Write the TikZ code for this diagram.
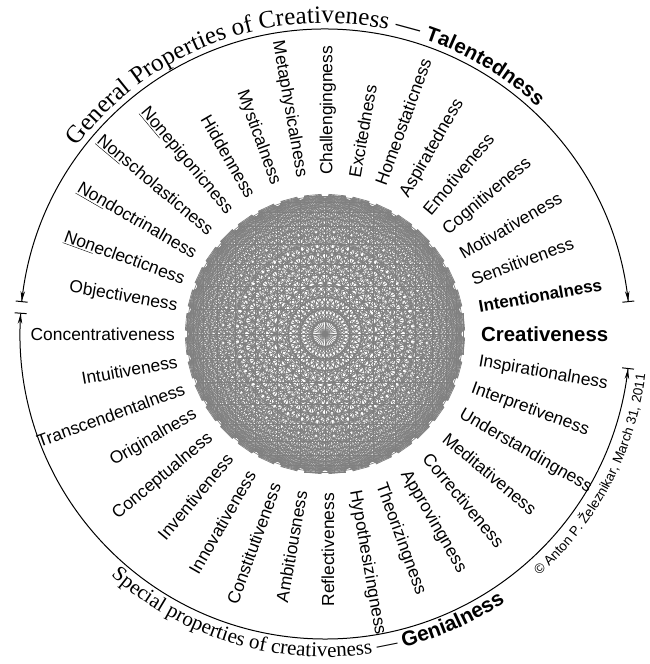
\documentclass[tikz,border=0pt]{standalone}
\usepackage{fontspec}
\setmainfont{Liberation Serif}
\setsansfont{Liberation Sans}
\usetikzlibrary{arrows.meta,decorations.text}

\begin{document}
\begin{tikzpicture}[x=1pt,y=1pt,
  vert/.style={circle,inner sep=0pt,minimum size=7pt},
  edge/.style={gray,line width=0.7pt},
  lblr/.style={anchor=west,inner sep=2pt,font=\sffamily\fontsize{17.4}{20}\selectfont},
  lbll/.style={anchor=east,inner sep=2pt,font=\sffamily\fontsize{17.4}{20}\selectfont},
  bound/.style={line width=1pt,{Bar[width=12pt]Stealth[length=10pt,width=4.5pt]}-{Stealth[length=10pt,width=4.5pt]Bar[width=12pt]}}]
\useasboundingbox (-325,-330) rectangle (324,334);
% Vertices of the graph
\foreach \i in {1,...,36}
  \node[vert] (v\i) at ({(\i-1)*10}:140) {};
% All connections between the properties
\foreach \i in {1,...,35} {
  \pgfmathtruncatemacro\k{\i+1}
  \foreach \j in {\k,...,36}
    \draw[edge] (v\i) -- (v\j);
}
\begin{scope}[shift={(3,0)}]
% Right half
\node[lblr,rotate=0,font=\sffamily\bfseries\fontsize{20.4}{22}\selectfont] (creat) at (0:151 and 157) {Creativeness};
\node[lblr,rotate=10,font=\sffamily\bfseries\fontsize{17}{20}\selectfont] (inten) at (10:151 and 157) {Intentionalness};
\node[lblr,rotate=20] (sensi) at (20:151 and 157) {Sensitiveness};
\node[lblr,rotate=30] (motiv) at (30:151 and 157) {Motivativeness};
\node[lblr,rotate=40] (cogni) at (40:151 and 157) {Cognitiveness};
\node[lblr,rotate=50] (emoti) at (50:151 and 157) {Emotiveness};
\node[lblr,rotate=60] (aspir) at (60:151 and 157) {Aspiratedness};
\node[lblr,rotate=70] (homeo) at (70:151 and 157) {Homeostaticness};
\node[lblr,rotate=80] (excit) at (80:151 and 157) {Excitedness};
\node[lblr,rotate=90] (chall) at (90:151 and 157) {Challengingness};
% Left half
\node[lbll,rotate=-80] (metap) at (100:151 and 157) {Metaphysicalness};
\node[lbll,rotate=-70] (mysti) at (110:151 and 157) {Mysticalness};
\node[lbll,rotate=-60] (hidde) at (120:151 and 157) {Hiddenness};
\node[lbll,rotate=-50] (nonep) at (130:151 and 157) {\underline{Non}epigonicness};
\node[lbll,rotate=-40] (nonsc) at (140:151 and 157) {\underline{Non}scholasticness};
\node[lbll,rotate=-30] (nondo) at (150:151 and 157) {\underline{Non}doctrinalness};
\node[lbll,rotate=-20] (nonec) at (160:151 and 157) {\underline{Non}eclecticness};
\node[lbll,rotate=-10] (objec) at (170:151 and 157) {Objectiveness};
\node[lbll,rotate=0] (conce) at (180:151 and 157) {Concentrativeness};
\node[lbll,rotate=10] (intui) at (190:151 and 157) {Intuitiveness};
\node[lbll,rotate=20] (trans) at (200:151 and 157) {Transcendentalness};
\node[lbll,rotate=30] (origi) at (210:151 and 157) {Originalness};
\node[lbll,rotate=40] (conceptu) at (220:151 and 157) {Conceptualness};
\node[lbll,rotate=50] (inven) at (230:151 and 157) {Inventiveness};
\node[lbll,rotate=60] (innov) at (240:151 and 157) {Innovativeness};
\node[lbll,rotate=70] (const) at (250:151 and 157) {Constitutiveness};
\node[lbll,rotate=80] (ambit) at (260:151 and 157) {Ambitiousness};
\node[lbll,rotate=90] (refle) at (270:151 and 157) {Reflectiveness};
% Lower right quarter
\node[lblr,rotate=-80] (hypot) at (280:151 and 157) {Hypothesizingness};
\node[lblr,rotate=-70] (theor) at (290:151 and 157) {Theorizingness};
\node[lblr,rotate=-60] (appro) at (300:151 and 157) {Approvingness};
\node[lblr,rotate=-50] (corre) at (310:151 and 157) {Correctiveness};
\node[lblr,rotate=-40] (medit) at (320:151 and 157) {Meditativeness};
\node[lblr,rotate=-30] (under) at (330:151 and 157) {Understandingness};
\node[lblr,rotate=-20] (inter) at (340:151 and 157) {Interpretiveness};
\node[lblr,rotate=-10] (inspi) at (350:151 and 157) {Inspirationalness};
\end{scope}
% Ranges of the two groups
\coordinate (ga) at (174:305);
\coordinate (gb) at (6:305);
\coordinate (sa) at (176:305);
\coordinate (sb) at (-6.4:305);
\draw[bound] (ga) arc[start angle=174,end angle=6,radius=305];
\draw[bound] (sa) arc[start angle=176,end angle=353.6,radius=305];
% Titles along the ranges
\path[decorate,decoration={text along path,raise=3pt,
  text={|\fontsize{25}{27}\selectfont|General Properties of Creativeness — |\sffamily\bfseries\fontsize{20.5}{22}\selectfont|Talentedness}}]
  (143:308) arc[start angle=143,end angle=30,radius=308];
\path[decorate,decoration={text along path,
  text={|\fontsize{21}{23}\selectfont|Special properties of creativeness — |\sffamily\bfseries\fontsize{21}{23}\selectfont|Genialness}}]
  (228.5:323) arc[start angle=228.5,end angle=320,radius=323];
\path[decorate,decoration={text along path,
  text={|\sffamily\fontsize{13.5}{16}\selectfont|© Anton P. Železnikar, March 31, 2011}}]
  (-48.5:323) arc[start angle=-48.5,end angle=0,radius=323];
\end{tikzpicture}
\end{document}
